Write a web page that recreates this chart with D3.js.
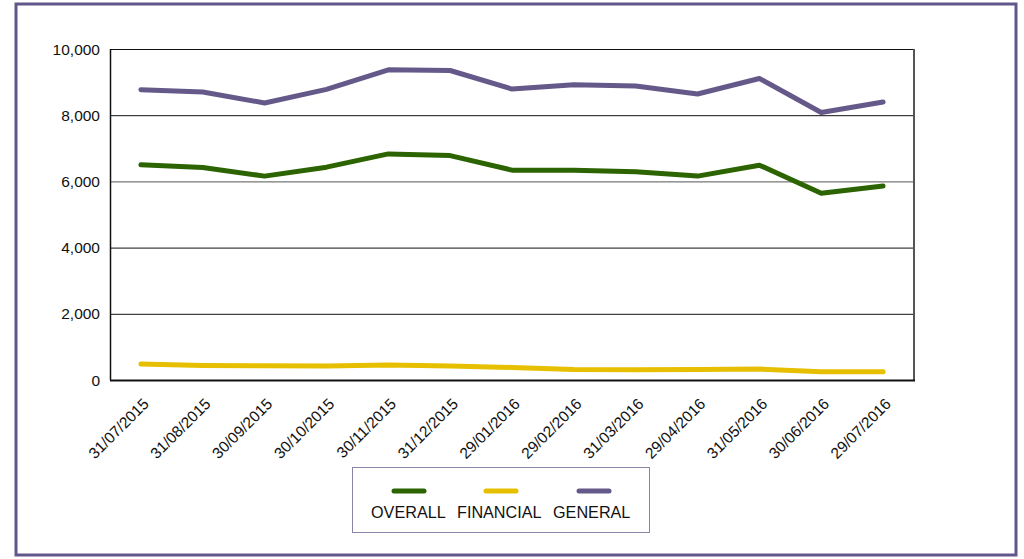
<!DOCTYPE html>
<html><head><meta charset="utf-8">
<script src="https://cdn.jsdelivr.net/npm/d3@7/dist/d3.min.js"></script>
<style>body{margin:0;background:#fff;}svg{display:block;}text{font-family:"Liberation Sans",Arial,sans-serif;fill:#111;}</style>
</head><body>
<svg id="c" width="1024" height="559"></svg>
<script>
const categories = ["31/07/2015","31/08/2015","30/09/2015","30/10/2015","30/11/2015","31/12/2015","29/01/2016","29/02/2016","31/03/2016","29/04/2016","31/05/2016","30/06/2016","29/07/2016"];
const overall   = [6500,6420,6160,6430,6830,6780,6340,6340,6290,6160,6490,5640,5860];
const financial = [480,440,430,420,450,420,380,320,310,320,330,250,250];
const general   = [8770,8700,8370,8780,9370,9350,8790,8920,8880,8640,9110,8080,8400];
const yTicks = [0,2000,4000,6000,8000,10000];
const seriesNames = ["OVERALL","FINANCIAL","GENERAL"];
const seriesColors = ["#2b6400","#e6c000","#65598a"];
const seriesData = [overall, financial, general];

const svg = d3.select("#c");
// outer frame
svg.append("rect").attr("x",16).attr("y",4).attr("width",1000).attr("height",551)
  .attr("fill","none").attr("stroke","#62578a").attr("stroke-width",3);

const L=110,R=914,T=49,B=380;
const x = d3.scalePoint().domain(categories).range([L,R]).padding(0.5);
const y = d3.scaleLinear().domain([0,10000]).range([B,T]);

// gridlines
svg.append("g").selectAll("line").data(yTicks.filter(d=>d>0)).join("line")
  .attr("x1",L).attr("x2",R).attr("y1",d=>y(d)+0.5).attr("y2",d=>y(d)+0.5)
  .attr("stroke",d=>d===6000?"#555":"#111").attr("stroke-width",1);
// plot frame
svg.append("line").attr("x1",L+0.5).attr("x2",L+0.5).attr("y1",T).attr("y2",B).attr("stroke","#111").attr("stroke-width",1.5);
svg.append("line").attr("x1",R).attr("x2",R).attr("y1",T).attr("y2",B).attr("stroke","#555").attr("stroke-width",2);
svg.append("line").attr("x1",L).attr("x2",R+1).attr("y1",B+0.5).attr("y2",B+0.5).attr("stroke","#111").attr("stroke-width",2);

// y axis labels
const fmt = d3.format(",");
svg.append("g").selectAll("text").data(yTicks).join("text")
  .attr("x",100).attr("y",d=>y(d)).attr("dy","0.36em").attr("text-anchor","end")
  .attr("font-size","15.5px").text(d=>fmt(d));

// x axis labels
svg.append("g").selectAll("text").data(categories).join("text")
  .attr("transform",d=>`translate(${x(d)+5},${B+21}) rotate(-45)`)
  .attr("text-anchor","end").attr("font-size","15.5px").attr("dy","0.35em").text(d=>d);

// lines
const line = d3.line().x((d,i)=>x(categories[i])).y(d=>y(d));
seriesData.forEach((s,k)=>{
  svg.append("path").datum(s).attr("d",line).attr("fill","none")
    .attr("stroke",seriesColors[k]).attr("stroke-width",5)
    .attr("stroke-linecap","round").attr("stroke-linejoin","round");
});

// legend
svg.append("rect").attr("x",352.5).attr("y",467.5).attr("width",297).attr("height",65)
  .attr("fill","#fff").attr("stroke","#8a84a8").attr("stroke-width",1);
const legX = [409,501,594];
const legTextX = [371,457,553];
seriesNames.forEach((n,k)=>{
  svg.append("line").attr("x1",legX[k]-15).attr("x2",legX[k]+15).attr("y1",491).attr("y2",491)
    .attr("stroke",seriesColors[k]).attr("stroke-width",5).attr("stroke-linecap","round");
  svg.append("text").attr("x",legTextX[k]).attr("y",518).attr("font-size","16.2px").text(n);
});
</script>
</body></html>
